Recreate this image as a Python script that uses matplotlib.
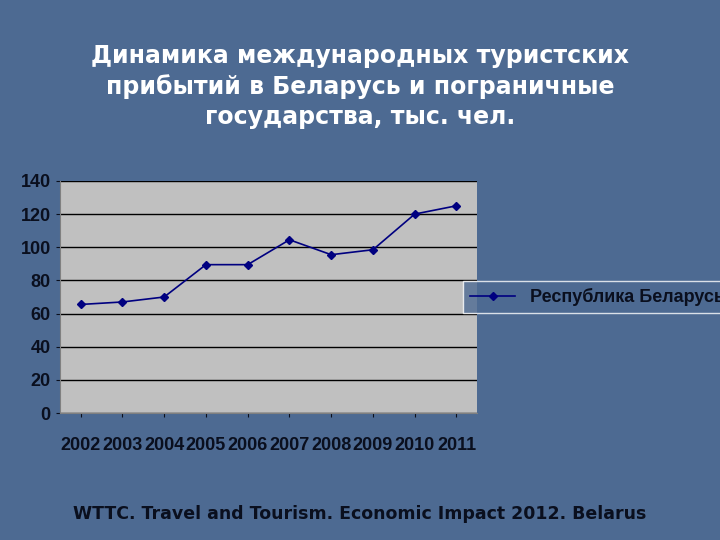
import matplotlib
matplotlib.use('Agg')
from matplotlib import pyplot as plt

years = ['2002', '2003', '2004', '2005', '2006', '2007', '2008', '2009', '2010', '2011']
arrivals = [65.5, 67, 70, 89.5, 89.5, 104.5, 95.5, 98.5, 120, 125]
series_name = 'Республика Беларусь'
title = 'Динамика международных туристских\nприбытий в Беларусь и пограничные\nгосударства, тыс. чел.'
source = 'WTTC. Travel and Tourism. Economic Impact 2012. Belarus'

bg = '#4d6a92'
ink = '#0a0f1e'
narrow = ['Liberation Sans Narrow', 'Liberation Sans', 'DejaVu Sans']
fig = plt.figure(figsize=(7.2, 5.4), dpi=100, facecolor=bg)
fig.text(0.5, 0.84, title, ha='center', va='center', color='white',
         fontsize=17, fontweight='bold', linespacing=1.3)
fig.text(0.5, 0.048, source, ha='center', va='center', color=ink,
         fontsize=12.5, fontweight='bold')

ax = fig.add_axes([0.083, 0.235, 0.58, 0.43])
ax.set_facecolor('#c0c0c0')
ax.plot(range(len(years)), arrivals, color='#000080', marker='D', markersize=4,
        linewidth=1.2, label=series_name)
ax.set_xlim(-0.5, len(years) - 0.5)
ax.set_ylim(0, 140)
ax.set_yticks(range(0, 141, 20))
ax.set_xticks(range(len(years)))
ax.set_xticklabels(years)
ax.grid(axis='y', color='black', linewidth=1)
ax.set_axisbelow(True)
for s in ['top', 'right']:
    ax.spines[s].set_visible(False)
for s in ['left', 'bottom']:
    ax.spines[s].set_color('#808080')
ax.tick_params(colors=ink, labelsize=13, length=3)
ax.tick_params(axis='x', pad=14)
for lbl in ax.get_xticklabels() + ax.get_yticklabels():
    lbl.set_fontweight('bold')
    lbl.set_fontfamily(narrow)
    lbl.set_color(ink)

leg = fig.legend(loc='center', bbox_to_anchor=(0.83, 0.45), frameon=True,
                 prop={'family': narrow, 'weight': 'bold', 'size': 13},
                 fancybox=False, handlelength=2.5)
leg.get_frame().set_facecolor(bg)
leg.get_frame().set_edgecolor('white')
for t in leg.get_texts():
    t.set_color(ink)

fig.savefig('out.png', dpi=100, facecolor=bg)
